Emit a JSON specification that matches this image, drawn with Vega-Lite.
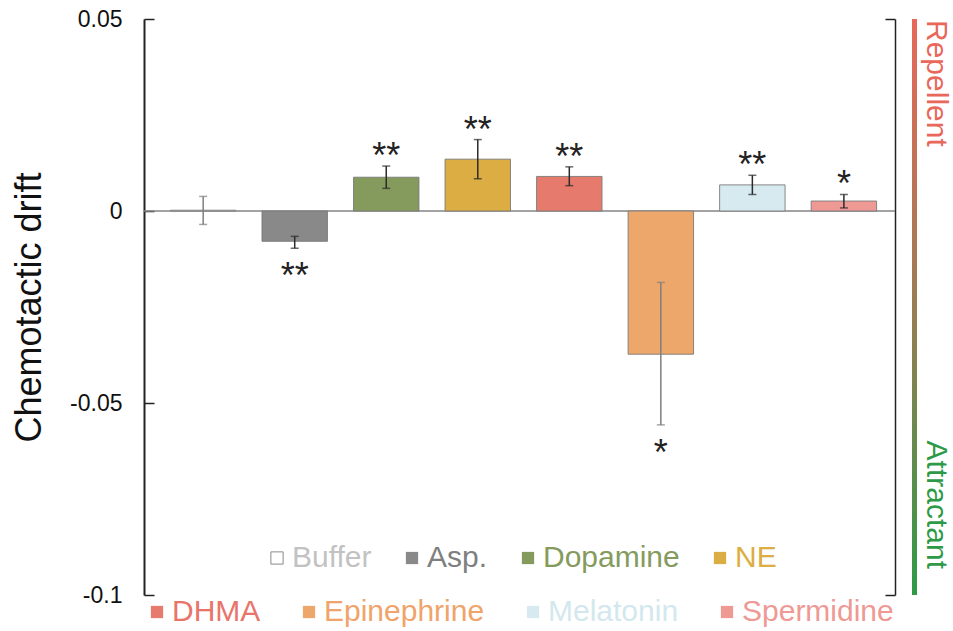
{
  "$schema": "https://vega.github.io/schema/vega-lite/v6.json",
  "background": "white",
  "padding": {"left": 11, "top": 8, "right": 0, "bottom": 0},
  "config": {
    "view": {"stroke": null},
    "font": "Liberation Sans",
    "text": {"font": "Liberation Sans"}
  },
  "datasets": {
    "drift": [
      {"name": "Buffer", "value": 0.0002, "lo": -0.0035, "hi": 0.0038, "sig": ""},
      {"name": "Asp.", "value": -0.0079, "lo": -0.0097, "hi": -0.0066, "sig": "**"},
      {"name": "Dopamine", "value": 0.0088, "lo": 0.0059, "hi": 0.0117, "sig": "**"},
      {"name": "NE", "value": 0.0135, "lo": 0.0084, "hi": 0.0186, "sig": "**"},
      {"name": "DHMA", "value": 0.009, "lo": 0.0066, "hi": 0.0115, "sig": "**"},
      {"name": "Epinephrine", "value": -0.0373, "lo": -0.0557, "hi": -0.0186, "sig": "*"},
      {"name": "Melatonin", "value": 0.0068, "lo": 0.0043, "hi": 0.0093, "sig": "**"},
      {"name": "Spermidine", "value": 0.0026, "lo": 0.0008, "hi": 0.0043, "sig": "*"}
    ]
  },
  "spacing": 16,
  "hconcat": [
    {
      "width": 751,
      "height": 576,
      "data": {"name": "drift"},
      "resolve": {
        "scale": {"color": "independent"},
        "axis": {"y": "independent"}
      },
      "layer": [
        {
          "data": {"values": [{}]},
          "mark": {"type": "rule", "color": "#858585", "strokeWidth": 1.5},
          "encoding": {
            "y": {"datum": 0, "type": "quantitative", "scale": {"domain": [-0.1, 0.05], "nice": false}, "axis": null}
          }
        },
        {
          "transform": [{"filter": {"field": "name", "oneOf": ["Buffer", "Asp.", "Dopamine", "NE"]}}],
          "mark": {"type": "bar"},
          "encoding": {
            "x": {
              "field": "name", "type": "nominal", "axis": null,
              "scale": {"domain": ["Buffer", "Asp.", "Dopamine", "NE", "DHMA", "Epinephrine", "Melatonin", "Spermidine"], "paddingInner": 0.285, "paddingOuter": 0.245, "align": 0.59}
            },
            "y": {
              "field": "value", "type": "quantitative",
              "scale": {"domain": [-0.1, 0.05], "nice": false},
              "axis": {
                "orient": "left",
                "values": [0.05, 0, -0.05, -0.1],
                "labelExpr": "'' + datum.value",
                "labelFont": "Liberation Sans",
                "labelFontSize": 23,
                "labelColor": "#111111",
                "labelPadding": 32,
                "labelFlush": false,
                "labelOverlap": false,
                "tickSize": -10,
                "tickWidth": 1.5,
                "tickColor": "#222222",
                "domainColor": "#222222",
                "domainWidth": 2,
                "grid": false,
                "title": "Chemotactic drift",
                "titleFont": "Liberation Sans",
                "titleFontSize": 36,
                "titleFontWeight": "normal",
                "titleColor": "#111111",
                "titlePadding": 21
              }
            },
            "color": {
              "field": "name", "type": "nominal",
              "scale": {"domain": ["Buffer", "Asp.", "Dopamine", "NE"], "range": ["#ffffff", "#898989", "#849b5d", "#dcad42"]},
              "legend": {
                "orient": "none",
                "legendX": 118,
                "legendY": 524,
                "direction": "horizontal",
                "columns": 4,
                "title": null,
                "padding": 0,
                "symbolType": "square",
                "symbolSize": 150,
                "symbolStrokeWidth": 1,
                "symbolStrokeColor": {"expr": "datum.value === 'Buffer' ? '#8a8a8a' : 'transparent'"},
                "labelColor": {"expr": "datum.value === 'Buffer' ? '#c2c2c2' : datum.value === 'Asp.' ? '#7f7f7f' : datum.value === 'Dopamine' ? '#849b5d' : '#dcad42'"},
                "labelFont": "Liberation Sans",
                "labelFontSize": 30,
                "labelOffset": 0,
                "columnPadding": 25,
                "labelLimit": 400
              }
            }
          }
        },
        {
          "transform": [{"filter": {"field": "name", "oneOf": ["DHMA", "Epinephrine", "Melatonin", "Spermidine"]}}],
          "mark": {"type": "bar"},
          "encoding": {
            "x": {
              "field": "name", "type": "nominal", "axis": null,
              "scale": {"domain": ["Buffer", "Asp.", "Dopamine", "NE", "DHMA", "Epinephrine", "Melatonin", "Spermidine"], "paddingInner": 0.285, "paddingOuter": 0.245, "align": 0.59}
            },
            "y": {
              "field": "value", "type": "quantitative",
              "scale": {"domain": [-0.1, 0.05], "nice": false},
              "axis": {
                "orient": "right",
                "values": [0.05, -0.1],
                "labels": false,
                "tickSize": -10,
                "tickWidth": 1.5,
                "tickColor": "#222222",
                "domainColor": "#222222",
                "domainWidth": 1.5,
                "grid": false,
                "title": null
              }
            },
            "color": {
              "field": "name", "type": "nominal",
              "scale": {"domain": ["DHMA", "Epinephrine", "Melatonin", "Spermidine"], "range": ["#e67a6d", "#eea76b", "#d6eaef", "#ef9994"]},
              "legend": {
                "orient": "none",
                "legendX": -2,
                "legendY": 578,
                "direction": "horizontal",
                "columns": 4,
                "title": null,
                "padding": 0,
                "symbolType": "square",
                "symbolSize": 150,
                "labelColor": {"expr": "datum.value === 'DHMA' ? '#e8746a' : datum.value === 'Epinephrine' ? '#f0a36b' : datum.value === 'Melatonin' ? '#d3e8ee' : '#ef9994'"},
                "labelFont": "Liberation Sans",
                "labelFontSize": 30,
                "labelOffset": 0,
                "columnPadding": 33,
                "labelLimit": 400
              }
            }
          }
        },
        {
          "mark": {"type": "bar", "fillOpacity": 0, "stroke": "#7a7a7a", "strokeWidth": 0.9},
          "encoding": {
            "x": {"field": "name", "type": "nominal", "axis": null, "scale": {"domain": ["Buffer", "Asp.", "Dopamine", "NE", "DHMA", "Epinephrine", "Melatonin", "Spermidine"], "paddingInner": 0.285, "paddingOuter": 0.245, "align": 0.59}},
            "y": {"field": "value", "type": "quantitative", "scale": {"domain": [-0.1, 0.05], "nice": false}, "axis": null}
          }
        },
        {
          "mark": {"type": "rule", "strokeWidth": 1.5},
          "encoding": {
            "x": {"field": "name", "type": "nominal", "axis": null, "scale": {"domain": ["Buffer", "Asp.", "Dopamine", "NE", "DHMA", "Epinephrine", "Melatonin", "Spermidine"], "paddingInner": 0.285, "paddingOuter": 0.245, "align": 0.59}},
            "y": {"field": "lo", "type": "quantitative", "scale": {"domain": [-0.1, 0.05], "nice": false}, "axis": null},
            "y2": {"field": "hi"},
            "color": {"condition": {"test": "datum.name === 'Buffer' || datum.name === 'Epinephrine'", "value": "#7f7f7f"}, "value": "#2b2b2b"}
          }
        },
        {
          "mark": {"type": "tick", "size": 8, "thickness": 1.5},
          "encoding": {
            "x": {"field": "name", "type": "nominal", "axis": null, "scale": {"domain": ["Buffer", "Asp.", "Dopamine", "NE", "DHMA", "Epinephrine", "Melatonin", "Spermidine"], "paddingInner": 0.285, "paddingOuter": 0.245, "align": 0.59}},
            "y": {"field": "lo", "type": "quantitative", "scale": {"domain": [-0.1, 0.05], "nice": false}, "axis": null},
            "color": {"condition": {"test": "datum.name === 'Buffer' || datum.name === 'Epinephrine'", "value": "#7f7f7f"}, "value": "#2b2b2b"}
          }
        },
        {
          "mark": {"type": "tick", "size": 8, "thickness": 1.5},
          "encoding": {
            "x": {"field": "name", "type": "nominal", "axis": null, "scale": {"domain": ["Buffer", "Asp.", "Dopamine", "NE", "DHMA", "Epinephrine", "Melatonin", "Spermidine"], "paddingInner": 0.285, "paddingOuter": 0.245, "align": 0.59}},
            "y": {"field": "hi", "type": "quantitative", "scale": {"domain": [-0.1, 0.05], "nice": false}, "axis": null},
            "color": {"condition": {"test": "datum.name === 'Buffer' || datum.name === 'Epinephrine'", "value": "#7f7f7f"}, "value": "#2b2b2b"}
          }
        },
        {
          "transform": [{"filter": "datum.value > 0 && datum.sig !== ''"}],
          "mark": {"type": "text", "fontSize": 36, "baseline": "middle", "align": "center", "dy": -9, "color": "#222222"},
          "encoding": {
            "x": {"field": "name", "type": "nominal", "axis": null, "scale": {"domain": ["Buffer", "Asp.", "Dopamine", "NE", "DHMA", "Epinephrine", "Melatonin", "Spermidine"], "paddingInner": 0.285, "paddingOuter": 0.245, "align": 0.59}},
            "y": {"field": "hi", "type": "quantitative", "scale": {"domain": [-0.1, 0.05], "nice": false}, "axis": null},
            "text": {"field": "sig"}
          }
        },
        {
          "transform": [{"filter": "datum.value < 0 && datum.sig !== ''"}],
          "mark": {"type": "text", "fontSize": 36, "baseline": "middle", "align": "center", "dy": 29, "color": "#222222"},
          "encoding": {
            "x": {"field": "name", "type": "nominal", "axis": null, "scale": {"domain": ["Buffer", "Asp.", "Dopamine", "NE", "DHMA", "Epinephrine", "Melatonin", "Spermidine"], "paddingInner": 0.285, "paddingOuter": 0.245, "align": 0.59}},
            "y": {"field": "lo", "type": "quantitative", "scale": {"domain": [-0.1, 0.05], "nice": false}, "axis": null},
            "text": {"field": "sig"}
          }
        }
      ]
    },
    {
      "spacing": 4,
      "hconcat": [
        {
          "width": 5,
          "height": 576,
          "data": {"values": [{"band": "scale"}]},
          "mark": {
            "type": "rect",
            "color": {
              "gradient": "linear", "x1": 0, "y1": 0, "x2": 0, "y2": 1,
              "stops": [
                {"offset": 0, "color": "#e8685a"},
                {"offset": 0.5, "color": "#9a7d52"},
                {"offset": 1, "color": "#2e9a47"}
              ]
            }
          },
          "encoding": {
            "y": {"datum": 0.05, "type": "quantitative", "scale": {"domain": [-0.1, 0.05], "nice": false}, "axis": null},
            "y2": {"datum": -0.1}
          }
        },
        {
          "width": 26,
          "height": 576,
          "layer": [
            {
              "data": {"values": [{"label": "Repellent"}]},
              "mark": {"type": "text", "angle": 90, "align": "left", "baseline": "middle", "fontSize": 30, "dx": 1, "color": "#e8685a"},
              "encoding": {
                "y": {"datum": 0.05, "type": "quantitative", "scale": {"domain": [-0.1, 0.05], "nice": false}, "axis": null},
                "text": {"field": "label"}
              }
            },
            {
              "data": {"values": [{"label": "Attractant"}]},
              "mark": {"type": "text", "angle": 90, "align": "right", "baseline": "middle", "fontSize": 30, "dx": -26, "color": "#2e9a47"},
              "encoding": {
                "y": {"datum": -0.1, "type": "quantitative", "scale": {"domain": [-0.1, 0.05], "nice": false}, "axis": null},
                "text": {"field": "label"}
              }
            }
          ]
        }
      ]
    }
  ]
}
